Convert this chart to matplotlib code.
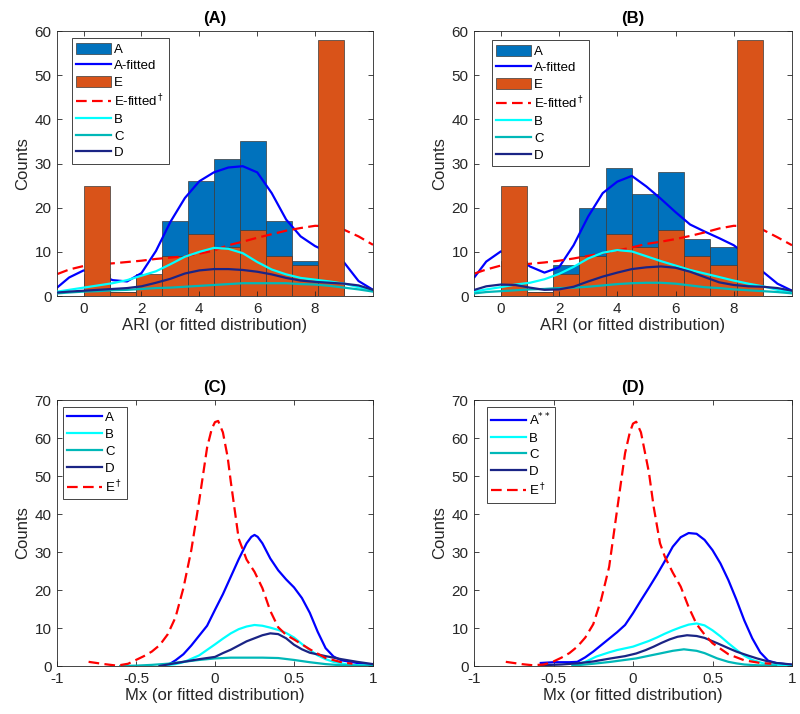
import numpy as np
import matplotlib.pyplot as plt
from matplotlib.patches import Patch
from matplotlib.lines import Line2D

plt.rcParams['font.family'] = ['Liberation Sans', 'DejaVu Sans']

# ---- histogram data (panels A, B) ----
bin_edges = np.linspace(0, 9, 11)
hist_A_a = [5, 1, 4, 17, 26, 31, 35, 17, 8, 3]
hist_E_a = [25, 1, 5, 9, 14, 11, 15, 9, 7, 58]
hist_A_b = [8, 1, 7, 20, 29, 23, 28, 13, 11, 4]
hist_E_b = [25, 1, 5, 9, 14, 11, 15, 9, 7, 58]

# ---- fitted curves on ARI (panels A, B) ----
ari_x = [-0.9, -0.5, 0, 0.5, 1, 1.5, 2, 2.5, 3, 3.5, 4, 4.5, 5, 5.5, 6, 6.5,
         7, 7.5, 8, 8.5, 9, 9.5, 10]
fitA_a = [2.0, 4.2, 5.8, 5.0, 3.6, 3.3, 5.2, 10.2, 16.8, 22.2, 26.0, 28.0, 29.1,
          29.4, 28.0, 23.3, 17.3, 13.5, 11.3, 9.8, 7.6, 3.4, 1.4]
fitE_a = [5.0, 6.0, 6.8, 7.2, 7.4, 7.7, 8.0, 8.4, 8.7, 9.0, 9.6, 10.3, 11.5,
          12.3, 13.2, 14.0, 14.8, 15.4, 15.9, 15.8, 15.0, 13.5, 11.6]
fitB_a = [1.0, 1.4, 1.9, 2.4, 2.9, 3.6, 4.6, 5.6, 7.2, 8.9, 10.0, 10.9, 10.7,
          9.7, 7.7, 6.0, 4.9, 4.1, 3.7, 3.3, 2.8, 2.0, 1.2]
fitC_a = [0.6, 0.8, 1.0, 1.1, 1.3, 1.4, 1.6, 1.8, 1.9, 2.1, 2.3, 2.5, 2.7, 2.9,
          2.9, 2.9, 2.9, 2.7, 2.6, 2.3, 1.9, 1.5, 1.0]
fitD_a = [0.8, 1.0, 1.2, 1.4, 1.6, 1.8, 2.2, 3.0, 3.9, 5.1, 5.8, 6.1, 6.1, 5.9,
          5.5, 4.9, 4.1, 3.5, 3.2, 3.0, 2.8, 2.4, 1.4]

fitA_b = [4.3, 7.8, 10.1, 9.0, 6.7, 5.3, 6.5, 11.5, 18.0, 23.3, 25.9, 27.2, 24.8,
          22.0, 19.0, 16.2, 14.6, 13.1, 11.5, 9.0, 5.5, 2.8, 1.2]
fitE_b = [5.1, 6.0, 6.9, 7.1, 7.3, 7.6, 8.0, 8.5, 9.1, 9.7, 10.3, 11.0, 11.8,
          12.3, 12.9, 13.6, 14.4, 15.3, 15.9, 15.8, 15.0, 13.3, 11.5]
fitB_b = [1.0, 1.5, 2.0, 2.6, 3.0, 3.8, 5.0, 6.6, 8.5, 9.8, 10.4, 10.1, 9.0, 7.9,
          6.9, 5.9, 5.1, 4.3, 3.5, 2.8, 2.2, 1.4, 0.8]
fitC_b = [0.6, 0.9, 1.1, 1.3, 1.5, 1.6, 1.8, 1.9, 2.1, 2.4, 2.7, 2.9, 3.0, 3.0,
          2.8, 2.4, 2.0, 1.8, 1.5, 1.3, 1.1, 0.9, 0.6]
fitD_b = [1.4, 2.2, 2.6, 2.5, 1.9, 1.4, 1.5, 2.1, 3.3, 4.4, 5.3, 6.1, 6.5, 6.7,
          6.4, 5.5, 4.3, 3.1, 2.5, 2.2, 2.1, 1.8, 1.2]

# ---- fitted curves on Mx (panel C) ----
mxC_E_x = [-0.8, -0.7, -0.62, -0.55, -0.5, -0.45, -0.4, -0.35, -0.3, -0.25, -0.2,
           -0.15, -0.1, -0.05, -0.02, 0, 0.02, 0.05, 0.08, 0.1, 0.15, 0.2, 0.25, 0.3,
           0.35, 0.4, 0.45, 0.5, 0.6, 0.7, 0.8, 0.87]
mxC_E_y = [1.1, 0.5, 0.1, 0.6, 1.6, 2.6, 3.8, 5.5, 8.3, 12.8, 20.5, 30.5, 43.5,
           57.5, 62.5, 64.2, 64.5, 61.5, 55.0, 48.5, 33.5, 28.0, 24.8, 20.5, 14.5,
           10.2, 8.2, 7.0, 4.4, 2.1, 1.0, 0.6]
mxC_A_x = [-0.35, -0.3, -0.25, -0.2, -0.15, -0.1, -0.05, 0, 0.05, 0.1, 0.15, 0.2,
           0.23, 0.25, 0.27, 0.3, 0.35, 0.4, 0.45, 0.5, 0.55, 0.6, 0.65, 0.7, 0.75,
           0.8, 0.9, 1.0]
mxC_A_y = [0.0, 0.2, 1.5, 3.1, 5.4, 8.0, 10.6, 14.8, 18.9, 23.5, 28.1, 32.3, 34.0,
           34.5, 34.0, 32.3, 28.3, 25.2, 22.8, 20.7, 17.9, 14.0, 9.0, 4.7, 2.5, 1.5,
           0.8, 0.3]
mxC_B_x = [-0.35, -0.25, -0.2, -0.1, 0, 0.05, 0.1, 0.15, 0.2, 0.25, 0.3, 0.35, 0.4,
           0.45, 0.5, 0.55, 0.6, 0.65, 0.7, 0.75, 0.85, 1.0]
mxC_B_y = [0.0, 0.5, 1.0, 2.8, 5.7, 7.2, 8.6, 9.7, 10.4, 10.8, 10.6, 10.1, 9.5,
           8.7, 7.5, 5.8, 4.2, 2.8, 1.8, 1.1, 0.3, 0.1]
mxC_C_x = [-0.6, -0.5, -0.4, -0.3, -0.2, -0.1, 0, 0.1, 0.2, 0.3, 0.4, 0.5, 0.6,
           0.7, 0.8, 0.9, 1.0]
mxC_C_y = [0.0, 0.1, 0.3, 0.6, 1.1, 1.6, 2.0, 2.2, 2.2, 2.2, 2.1, 1.6, 1.0, 0.5,
           0.2, 0.1, 0.0]
mxC_D_x = [-0.35, -0.3, -0.2, -0.1, 0, 0.05, 0.1, 0.15, 0.2, 0.25, 0.3, 0.35, 0.4,
           0.45, 0.5, 0.55, 0.6, 0.7, 0.8, 0.9, 1.0]
mxC_D_y = [0.0, 0.4, 1.1, 1.8, 2.4, 3.4, 4.3, 5.4, 6.5, 7.3, 8.1, 8.6, 8.4, 7.3,
           5.6, 4.4, 3.5, 2.6, 1.8, 1.1, 0.5]

# ---- fitted curves on Mx (panel D) ----
mxD_E_x = [-0.8, -0.7, -0.63, -0.56, -0.5, -0.45, -0.4, -0.35, -0.3, -0.25, -0.2,
           -0.15, -0.1, -0.05, -0.02, 0, 0.02, 0.05, 0.1, 0.13, 0.17, 0.2, 0.25, 0.3,
           0.35, 0.4, 0.45, 0.5, 0.6, 0.7, 0.8, 0.87]
mxD_E_y = [1.1, 0.5, 0.2, 0.4, 1.2, 2.2, 3.4, 5.1, 7.5, 11.0, 17.5, 26.1, 41.1,
           56.0, 61.5, 63.8, 64.3, 61.5, 51.0, 41.9, 32.3, 28.8, 24.6, 20.9, 15.5,
           11.0, 8.3, 6.0, 3.1, 1.5, 0.8, 0.6]
mxD_A_x = [-0.58, -0.5, -0.4, -0.35, -0.3, -0.25, -0.2, -0.15, -0.1, -0.05, 0, 0.05,
           0.1, 0.15, 0.2, 0.25, 0.3, 0.35, 0.4, 0.45, 0.5, 0.55, 0.6, 0.65, 0.7,
           0.75, 0.8, 0.85, 0.9, 1.0]
mxD_A_y = [0.8, 1.0, 1.0, 1.1, 2.3, 3.8, 5.5, 7.2, 8.9, 10.8, 13.9, 17.3, 20.6,
           24.0, 27.6, 31.4, 33.9, 35.0, 34.8, 33.2, 30.5, 27.0, 22.6, 17.5, 12.0,
           7.3, 3.6, 1.4, 0.8, 0.3]
mxD_B_x = [-0.38, -0.3, -0.23, -0.15, -0.1, 0, 0.1, 0.15, 0.2, 0.25, 0.3, 0.35, 0.4,
           0.45, 0.5, 0.55, 0.6, 0.65, 0.7, 0.75, 0.82, 0.92, 1.0]
mxD_B_y = [0.1, 1.1, 2.5, 3.6, 4.2, 5.1, 6.6, 7.5, 8.5, 9.4, 10.2, 10.9, 11.2, 10.7,
           9.4, 7.8, 6.0, 4.3, 2.7, 1.6, 0.7, 0.2, 0.1]
mxD_C_x = [-0.38, -0.25, -0.14, 0.02, 0.1, 0.17, 0.25, 0.32, 0.4, 0.45, 0.53, 0.6,
           0.65, 0.7, 0.78, 0.9]
mxD_C_y = [0.1, 0.6, 1.1, 2.0, 2.7, 3.3, 4.0, 4.4, 4.0, 3.4, 2.0, 1.1, 0.7, 0.4,
           0.2, 0.1]
mxD_D_x = [-0.58, -0.45, -0.35, -0.25, -0.14, -0.05, 0.02, 0.08, 0.13, 0.18, 0.23,
           0.28, 0.34, 0.4, 0.45, 0.53, 0.6, 0.65, 0.72, 0.78, 0.85, 0.9, 1.0]
mxD_D_y = [0.2, 0.4, 0.7, 1.2, 2.0, 2.6, 3.3, 4.2, 5.1, 6.1, 7.0, 7.7, 8.1, 7.9,
           7.4, 6.0, 4.7, 3.8, 2.8, 2.0, 1.2, 0.8, 0.4]

col_histA = '#0072BD'
col_histE = '#D95319'
col_A = (0, 0, 1)
col_B = (0, 1, 1)
col_C = (0.0, 0.72, 0.72)
col_D = (0.1, 0.14, 0.52)
col_E = (1, 0, 0)
edge = '#3a3a3a'
axcol = '#262626'
lw = 1.6
red_dash = (4.8, 2.4)

fig = plt.figure(figsize=(8.0, 7.14), dpi=100)
ax_a = fig.add_axes([0.07125, 0.5854, 0.395, 0.3711])
ax_b = fig.add_axes([0.5925, 0.5854, 0.3975, 0.3711])
ax_c = fig.add_axes([0.07125, 0.0672, 0.395, 0.3725])
ax_d = fig.add_axes([0.5925, 0.0672, 0.3975, 0.3725])


def style(ax, title, xlabel):
    ax.tick_params(direction='in', top=True, right=True, length=3.5, width=0.6,
                   labelsize=11, colors=axcol, pad=4)
    for s in ax.spines.values():
        s.set_color(axcol)
        s.set_linewidth(0.6)
    ax.set_title(title, fontsize=12, fontweight='bold', pad=6)
    ax.set_xlabel(xlabel, fontsize=12, color=axcol, labelpad=2)
    ax.set_ylabel('Counts', fontsize=12, color=axcol, labelpad=3)


def add_legend(ax, handles, labels, anchor):
    leg = ax.legend(handles, labels, loc='upper left', bbox_to_anchor=anchor,
                    borderaxespad=0, fontsize=9.5, handlelength=2.6,
                    handleheight=0.9, labelspacing=0.28, handletextpad=0.25,
                    borderpad=0.35, fancybox=False, framealpha=1)
    leg.get_frame().set_edgecolor(axcol)
    leg.get_frame().set_linewidth(0.6)


def ari_panel(ax, hA, hE, fA, fE, fB, fC, fD, title, anchor):
    ax.hist(bin_edges[:-1], bins=bin_edges, weights=hA, color=col_histA,
            edgecolor=edge, linewidth=0.5, zorder=1)
    ax.plot(ari_x, fA, color=col_A, lw=lw, zorder=2)
    ax.plot(ari_x, fE, color=col_E, lw=lw, dashes=red_dash, zorder=2)
    _, _, pe = ax.hist(bin_edges[:-1], bins=bin_edges, weights=hE, color=col_histE,
                       edgecolor=edge, linewidth=0.5, zorder=1.5)
    # the two tall end bars sit in front of the fitted curves
    pe[0].set_zorder(3)
    pe[-1].set_zorder(3)
    ax.plot(ari_x, fB, color=col_B, lw=lw, zorder=4)
    ax.plot(ari_x, fC, color=col_C, lw=lw, zorder=4)
    ax.plot(ari_x, fD, color=col_D, lw=lw, zorder=4)
    ax.set_xlim(-0.92, 10)
    ax.set_ylim(0, 60)
    ax.set_xticks([0, 2, 4, 6, 8])
    ax.set_yticks(range(0, 61, 10))
    handles = [Patch(facecolor=col_histA, edgecolor=edge, linewidth=0.5),
               Line2D([], [], color=col_A, lw=lw),
               Patch(facecolor=col_histE, edgecolor=edge, linewidth=0.5),
               Line2D([], [], color=col_E, lw=lw, dashes=red_dash),
               Line2D([], [], color=col_B, lw=lw),
               Line2D([], [], color=col_C, lw=lw),
               Line2D([], [], color=col_D, lw=lw)]
    labels = ['A', 'A-fitted', 'E', r'E-fitted$^\dagger$', 'B', 'C', 'D']
    add_legend(ax, handles, labels, anchor)
    style(ax, title, 'ARI (or fitted distribution)')


def mx_panel(ax, curves, labels, title, anchor):
    cols = [col_A, col_B, col_C, col_D, col_E]
    handles = []
    for (x, y), c in zip(curves, cols):
        if c == col_E:
            h, = ax.plot(x, y, color=c, lw=lw, dashes=red_dash)
        else:
            h, = ax.plot(x, y, color=c, lw=lw)
        handles.append(h)
    ax.set_xlim(-1, 1)
    ax.set_ylim(0, 70)
    ax.set_xticks([-1, -0.5, 0, 0.5, 1])
    ax.set_xticklabels(['-1', '-0.5', '0', '0.5', '1'])
    ax.set_yticks(range(0, 71, 10))
    add_legend(ax, handles, labels, anchor)
    style(ax, title, 'Mx (or fitted distribution)')


ari_panel(ax_a, hist_A_a, hist_E_a, fitA_a, fitE_a, fitB_a, fitC_a, fitD_a,
          '(A)', (0.047, 0.974))
ari_panel(ax_b, hist_A_b, hist_E_b, fitA_b, fitE_b, fitB_b, fitC_b, fitD_b,
          '(B)', (0.056, 0.966))

mx_panel(ax_c, [(mxC_A_x, mxC_A_y), (mxC_B_x, mxC_B_y), (mxC_C_x, mxC_C_y),
                (mxC_D_x, mxC_D_y), (mxC_E_x, mxC_E_y)],
         ['A', 'B', 'C', 'D', r'E$^\dagger$'], '(C)', (0.018, 0.975))
mx_panel(ax_d, [(mxD_A_x, mxD_A_y), (mxD_B_x, mxD_B_y), (mxD_C_x, mxD_C_y),
                (mxD_D_x, mxD_D_y), (mxD_E_x, mxD_E_y)],
         [r'A$^{**}$', 'B', 'C', 'D', r'E$^\dagger$'], '(D)', (0.04, 0.975))

fig.savefig('out.png', dpi=100)
